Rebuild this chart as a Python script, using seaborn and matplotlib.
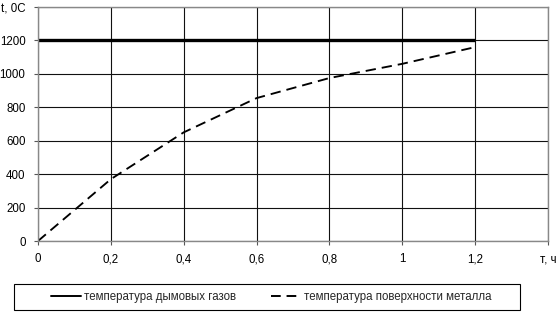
import matplotlib
matplotlib.use("Agg")
import matplotlib.pyplot as plt
import seaborn as sns
import pandas as pd
from matplotlib.lines import Line2D
from matplotlib.patches import Rectangle

# Data
time_h = [0, 0.2, 0.4, 0.6, 0.8, 1.0, 1.2]
gas_temp = [1200, 1200, 1200, 1200, 1200, 1200, 1200]
metal_temp = [0, 370, 650, 855, 975, 1060, 1160]
series_names = ["температура дымовых газов", "температура поверхности металла"]
x_ticks = [0, 0.2, 0.4, 0.6, 0.8, 1.0, 1.2, 1.4]
x_labels = ["0", "0,2", "0,4", "0,6", "0,8", "1", "1,2", "т, ч"]
y_ticks = [0, 200, 400, 600, 800, 1000, 1200, 1400]
y_labels = ["0", "200", "400", "600", "800", "1000", "1200", "t, 0C"]

df = pd.DataFrame({
    "t": time_h * 2,
    "T": gas_temp + metal_temp,
    "series": [series_names[0]] * len(time_h) + [series_names[1]] * len(time_h),
})

sns.set_theme(style="white")
plt.rcParams["font.family"] = ["Liberation Sans", "DejaVu Sans"]

fig = plt.figure(figsize=(5.58, 3.17), dpi=100)
ax = fig.add_axes([38 / 558, 1 - 241 / 317, 510 / 558, 234 / 317])

sns.lineplot(data=df, x="t", y="T", hue="series", style="series",
             palette=["black", "black"], dashes=[(1, 0), (5.5, 3.2)],
             ax=ax, legend=False, sort=False)
lines = ax.get_lines()
lines[0].set_linewidth(2.4)
lines[1].set_linewidth(1.35)

ax.set_xlim(0, 1.4)
ax.set_ylim(0, 1400)
ax.set_xticks(x_ticks)
ax.set_xticklabels(x_labels, fontsize=8.3)
ax.set_yticks(y_ticks)
ax.set_yticklabels(y_labels, fontsize=8.3)
ax.set_xlabel("")
ax.set_ylabel("")
ax.grid(True, color="#111111", linewidth=0.8)
ax.set_axisbelow(True)
for s in ax.spines.values():
    s.set_color("#888888")
    s.set_linewidth(1.0)
ax.tick_params(axis="both", which="both", length=3, width=0.8,
               direction="out", bottom=True, left=True, pad=6,
               colors="#555555", labelcolor="black")

# legend frame
fig.add_artist(Rectangle((14 / 558, 1 - 310 / 317), 506 / 558, 26 / 317,
                         transform=fig.transFigure, fill=False,
                         edgecolor="black", linewidth=0.8))
handles = [Line2D([], [], color="black", linewidth=1.4),
           Line2D([], [], color="black", linewidth=1.4, dashes=(5, 3))]
leg = fig.legend(handles, series_names, loc="center",
                 bbox_to_anchor=(271 / 558, 1 - 297 / 317),
                 ncol=2, frameon=False, fontsize=8.3,
                 handlelength=2.6, handletextpad=0.3, columnspacing=3.0,
                 borderaxespad=0)

fig.savefig("out.png", dpi=100)
